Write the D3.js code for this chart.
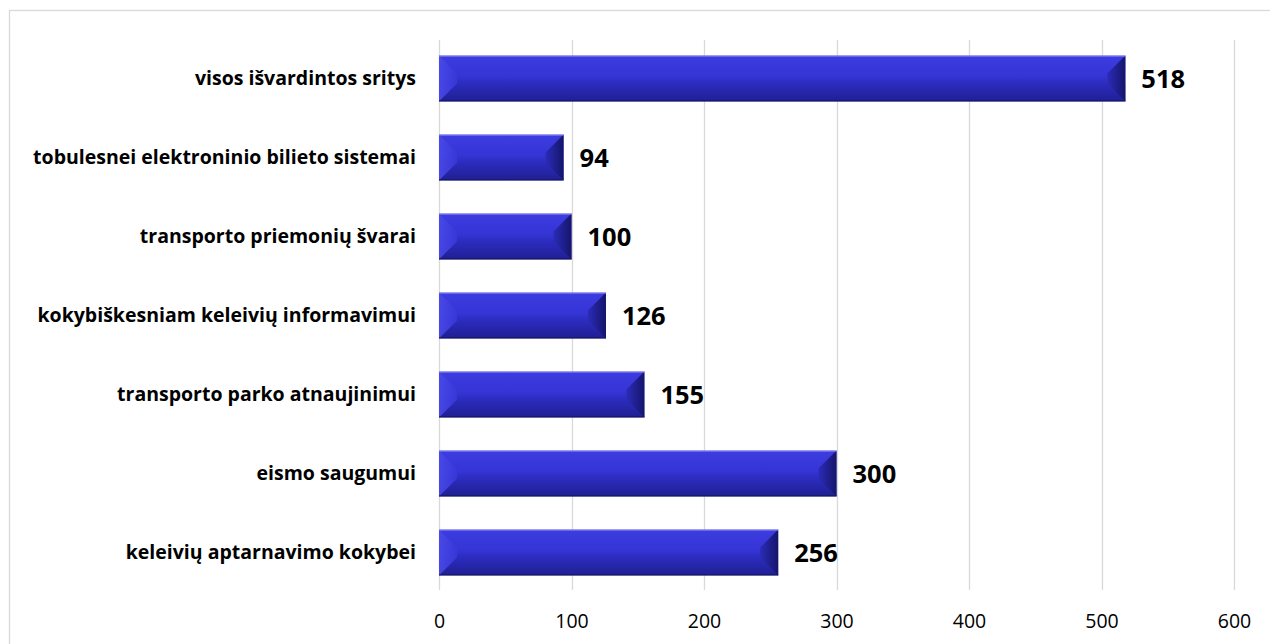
<!DOCTYPE html>
<html>
<head>
<meta charset="utf-8">
<script src="https://cdn.jsdelivr.net/npm/d3@7"></script>
<style>
  html, body { margin: 0; padding: 0; background: #fff; }
  svg { display: block; }
</style>
</head>
<body>
<svg id="chart" width="1270" height="644"></svg>
<script>
// Categories, bottom to top as drawn
const categories = [
  "keleivių aptarnavimo kokybei",
  "eismo saugumui",
  "transporto parko atnaujinimui",
  "kokybiškesniam keleivių informavimui",
  "transporto priemonių švarai",
  "tobulesnei elektroninio bilieto sistemai",
  "visos išvardintos sritys"
];
const values = [256, 300, 155, 126, 100, 94, 518];
const xTicks = [0, 100, 200, 300, 400, 500, 600];

const svg = d3.select("#chart");
const W = 1270, H = 644;
const margin = { left: 439, right: 36, top: 39, bottom: 52 };

// chart frame
svg.append("rect")
  .attr("x", 9.5).attr("y", 10.5)
  .attr("width", W + 20).attr("height", H + 20)
  .attr("fill", "#fff").attr("stroke", "#d9d9d9").attr("stroke-width", 1.3);

const x = d3.scaleLinear().domain([0, 600]).range([margin.left, 1234]);
const y = d3.scaleBand()
  .domain(categories.slice().reverse())
  .range([margin.top, H - margin.bottom])
  .paddingInner(0.42).paddingOuter(0.21);

// gridlines
svg.append("g").selectAll("line").data(xTicks).join("line")
  .attr("x1", d => Math.round(x(d)) + 0.5).attr("x2", d => Math.round(x(d)) + 0.5)
  .attr("y1", 40).attr("y2", 590)
  .attr("stroke", "#d9d9d9").attr("stroke-width", 1.3);

// x-axis tick labels
const xAxis = d3.axisBottom(x).tickValues(xTicks).tickSize(0).tickPadding(0);
const gx = svg.append("g").attr("transform", "translate(0,621)").call(xAxis);
gx.select(".domain").remove();
gx.selectAll("text")
  .attr("y", 0).attr("dy", "0.36em")
  .style("font-family", "'Open Sans', sans-serif")
  .style("font-size", "19.5px").attr("fill", "#000");

// gradients for the bevelled bars
const defs = svg.append("defs");
const face = defs.append("linearGradient").attr("id", "face")
  .attr("x1", 0).attr("y1", 0).attr("x2", 0).attr("y2", 1);
face.append("stop").attr("offset", "0").attr("stop-color", "#3c3ce0");
face.append("stop").attr("offset", "0.45").attr("stop-color", "#3535d6");
face.append("stop").attr("offset", "0.6").attr("stop-color", "#2c2cc0");
face.append("stop").attr("offset", "1").attr("stop-color", "#1f1f92");
const rightG = defs.append("linearGradient").attr("id", "rightBevel")
  .attr("x1", 0).attr("y1", 0).attr("x2", 1).attr("y2", 0);
rightG.append("stop").attr("offset", "0").attr("stop-color", "#2b2bb8");
rightG.append("stop").attr("offset", "1").attr("stop-color", "#15156a");
const leftG = defs.append("linearGradient").attr("id", "leftBevel")
  .attr("x1", 0).attr("y1", 0).attr("x2", 1).attr("y2", 0);
leftG.append("stop").attr("offset", "0").attr("stop-color", "#4a4ae8");
leftG.append("stop").attr("offset", "1").attr("stop-color", "#3838da");

const bars = svg.append("g").selectAll("g").data(categories.map((c, i) => ({ c, v: values[i] })))
  .join("g");

const bevel = 18;
bars.each(function(d) {
  const g = d3.select(this);
  const x0 = x(0), x1 = x(d.v), y0 = y(d.c), h = y.bandwidth(), y1 = y0 + h, ym = y0 + h / 2;
  const b = Math.min(bevel, (x1 - x0) / 2);
  g.append("rect").attr("x", x0).attr("y", y0).attr("width", x1 - x0).attr("height", h)
    .attr("fill", "url(#face)");
  // left bevel
  g.append("path")
    .attr("d", `M${x0},${y0} L${x0 + b},${y0 + b} L${x0 + b},${y1 - b} L${x0},${y1} Z`)
    .attr("fill", "url(#leftBevel)").attr("opacity", 0.9);
  // right bevel
  g.append("path")
    .attr("d", `M${x1},${y0} L${x1 - b},${y0 + b} L${x1 - b},${y1 - b} L${x1},${y1} Z`)
    .attr("fill", "url(#rightBevel)");
  // top highlight
  g.append("line").attr("x1", x0).attr("x2", x1).attr("y1", y0 + 0.5).attr("y2", y0 + 0.5)
    .attr("stroke", "#8a8af0").attr("stroke-width", 1);
  // bottom edge
  g.append("line").attr("x1", x0).attr("x2", x1).attr("y1", y1 - 0.5).attr("y2", y1 - 0.5)
    .attr("stroke", "#15155e").attr("stroke-width", 1);
  g.append("text")
    .attr("x", x1 + 16).attr("y", ym).attr("dy", "0.36em")
    .style("font-family", "'Open Sans', sans-serif").style("font-weight", "bold")
    .style("font-size", "25.5px").attr("fill", "#000")
    .text(d.v);
});

// category labels
svg.append("g").selectAll("text").data(categories).join("text")
  .attr("x", 416).attr("y", d => y(d) + y.bandwidth() / 2).attr("dy", "0.35em")
  .attr("text-anchor", "end")
  .style("font-family", "'Open Sans', sans-serif").style("font-weight", "bold")
  .style("font-size", "19.5px").attr("fill", "#000")
  .text(d => d);
</script>
</body>
</html>
